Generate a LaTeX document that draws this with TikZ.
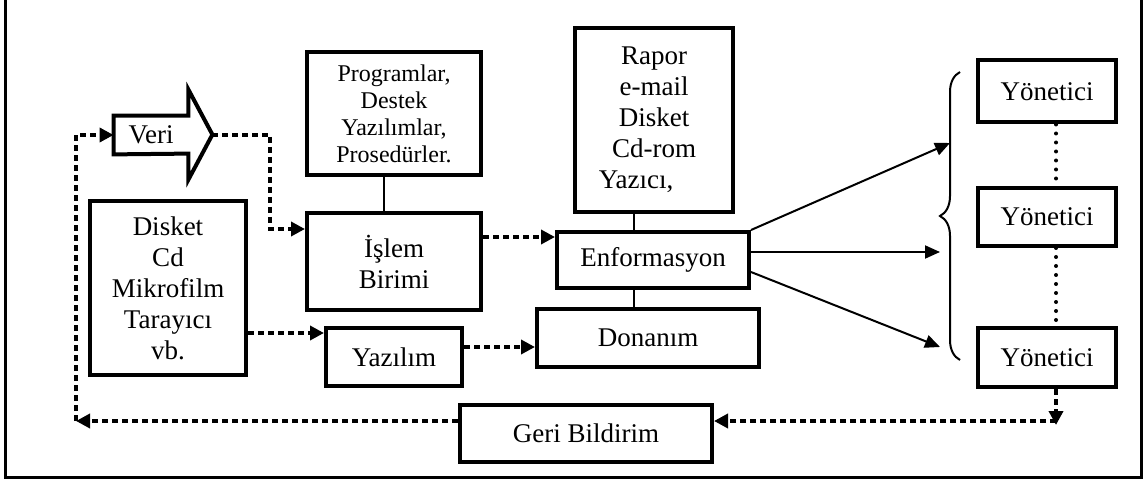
\documentclass[tikz,border=0pt]{standalone}
\usepackage{fontspec}
\setmainfont{Liberation Serif}
\usetikzlibrary{arrows.meta, calc, decorations.pathreplacing}

\begin{document}
\begin{tikzpicture}[x=0.5pt, y=-0.5pt,
	box/.style={draw, line width=2pt, align=center, inner sep=0pt, font=\fontsize{13.5}{15.5}\selectfont},
	dotarrow/.style={line width=2pt, dash pattern=on 3pt off 2pt, -{Triangle[length=7pt,width=7pt]}},
	thinline/.style={line width=1pt},
	arrowline/.style={line width=1pt, -{Triangle[length=7.5pt,width=6.5pt]}},
	finedots/.style={line width=2pt, line cap=round, dash pattern=on 0pt off 4.5pt}]
	\useasboundingbox (0,0) rectangle (1143,480);
	
	% 外框
	\draw[line width=1.5pt] (5,0) -- (5,477) -- (1141,477) -- (1141,0);
	
	% 绘制各个方框
	\node[box, minimum width=87pt, minimum height=61.5pt, font=\fontsize{12}{13.5}\selectfont] (prog) at (394,113.5) {Programlar,\\Destek\\Yazılımlar,\\Prosedürler.};
	\node[box, minimum width=87pt, minimum height=48.5pt] (islem) at (394,261.5) {İşlem\\Birimi};
	\node[box, minimum width=79pt, minimum height=92pt] (rapor) at (654,120) {Rapor\\e-mail\\Disket\\Cd-rom\\Yazıcı,\hspace*{18pt}};
	\node[box, minimum width=96pt, minimum height=28pt] (enf) at (653,260) {Enformasyon};
	\node[box, minimum width=111pt, minimum height=29pt] (don) at (648,338) {Donanım};
	\node[box, minimum width=68pt, minimum height=29pt] (yaz) at (394,357) {Yazılım};
	\node[box, minimum width=78pt, minimum height=87pt] (disket) at (168,288) {Disket\\Cd\\Mikrofilm\\Tarayıcı\\vb.};
	\node[box, minimum width=126pt, minimum height=28.5pt] (geri) at (586,433.5) {Geri Bildirim};
	\node[box, minimum width=69pt, minimum height=31pt] (y1) at (1047,91.5) {Yönetici};
	\node[box, minimum width=69pt, minimum height=29pt] (y2) at (1047,217) {Yönetici};
	\node[box, minimum width=69pt, minimum height=29.5pt] (y3) at (1047,357.5) {Yönetici};
	
	% 绘制Veri箭头
	\node[minimum width=37pt, minimum height=19pt, inner sep=0pt, font=\fontsize{13.5}{15.5}\selectfont] (veri) at (151,135) {Veri};
	\draw[line width=2pt] (veri.north west) -- (veri.north east) -- ++(0,-26) -- ++(24,45) -- ++(-24,45) -- ++(0,-26) -- (veri.south west) -- cycle;
	\coordinate (vtip) at ($(veri.east)+(24,0)$);
	
	% 实线连接
	\draw[thinline] ($(prog.south)+(-10,0)$) coordinate (p1) -- (p1 |- islem.north);
	\draw[thinline] ($(rapor.south)+(-20,0)$) coordinate (r1) -- (r1 |- enf.north);
	\draw[thinline] (r1 |- enf.south) -- (r1 |- don.north);
	
	% 点线箭头
	\coordinate (i1) at ($(islem.north west)+(0,18)$);
	\draw[dotarrow] (vtip) -- ++(58,0) |- (i1);
	\coordinate (e1) at ($(islem.north east)+(0,26)$);
	\draw[dotarrow] (e1) -- (e1 -| enf.west);
	\coordinate (d1) at ($(yaz.north west)+(0,7)$);
	\draw[dotarrow] (d1 -| disket.east) -- (d1);
	\coordinate (d2) at ($(don.west)+(0,9)$);
	\draw[dotarrow] (d2 -| yaz.east) -- (d2);
	
	% 大括号和输出箭头
	\draw[thinline, decorate, decoration={brace, amplitude=10pt}] (960,360) -- (960,72);
	\coordinate (b1) at (950,143);
	\coordinate (b2) at (940,252);
	\coordinate (b3) at (940,347);
	\draw[arrowline] (enf.north east) -- (b1);
	\draw[arrowline] ($(enf.east)+(0,-8)$) -- (b2);
	\draw[arrowline] ($(enf.east)+(0,12)$) -- (b3);
	
	% Yönetici之间的点线
	\draw[finedots] ($(y1.south)+(9,0)$) coordinate (m1) -- (m1 |- y2.north);
	\draw[finedots] (m1 |- y2.south) -- (m1 |- y3.north);
	
	% 反馈回路
	\coordinate (g1) at ($(geri.north east)+(0,18)$);
	\coordinate (g2) at (m1 |- g1);
	\draw[dotarrow] (m1 |- y3.south) -- ($(g2)+(0,4)$);
	\draw[dotarrow] (g2) -- (g1);
	\coordinate (lx) at (76,0);
	\coordinate (g3) at ($(geri.north west)+(0,18)$);
	\draw[dotarrow] (g3) -- (g3 -| lx);
	\draw[dotarrow] (g3 -| lx) |- (veri.west);
\end{tikzpicture}
\end{document}
